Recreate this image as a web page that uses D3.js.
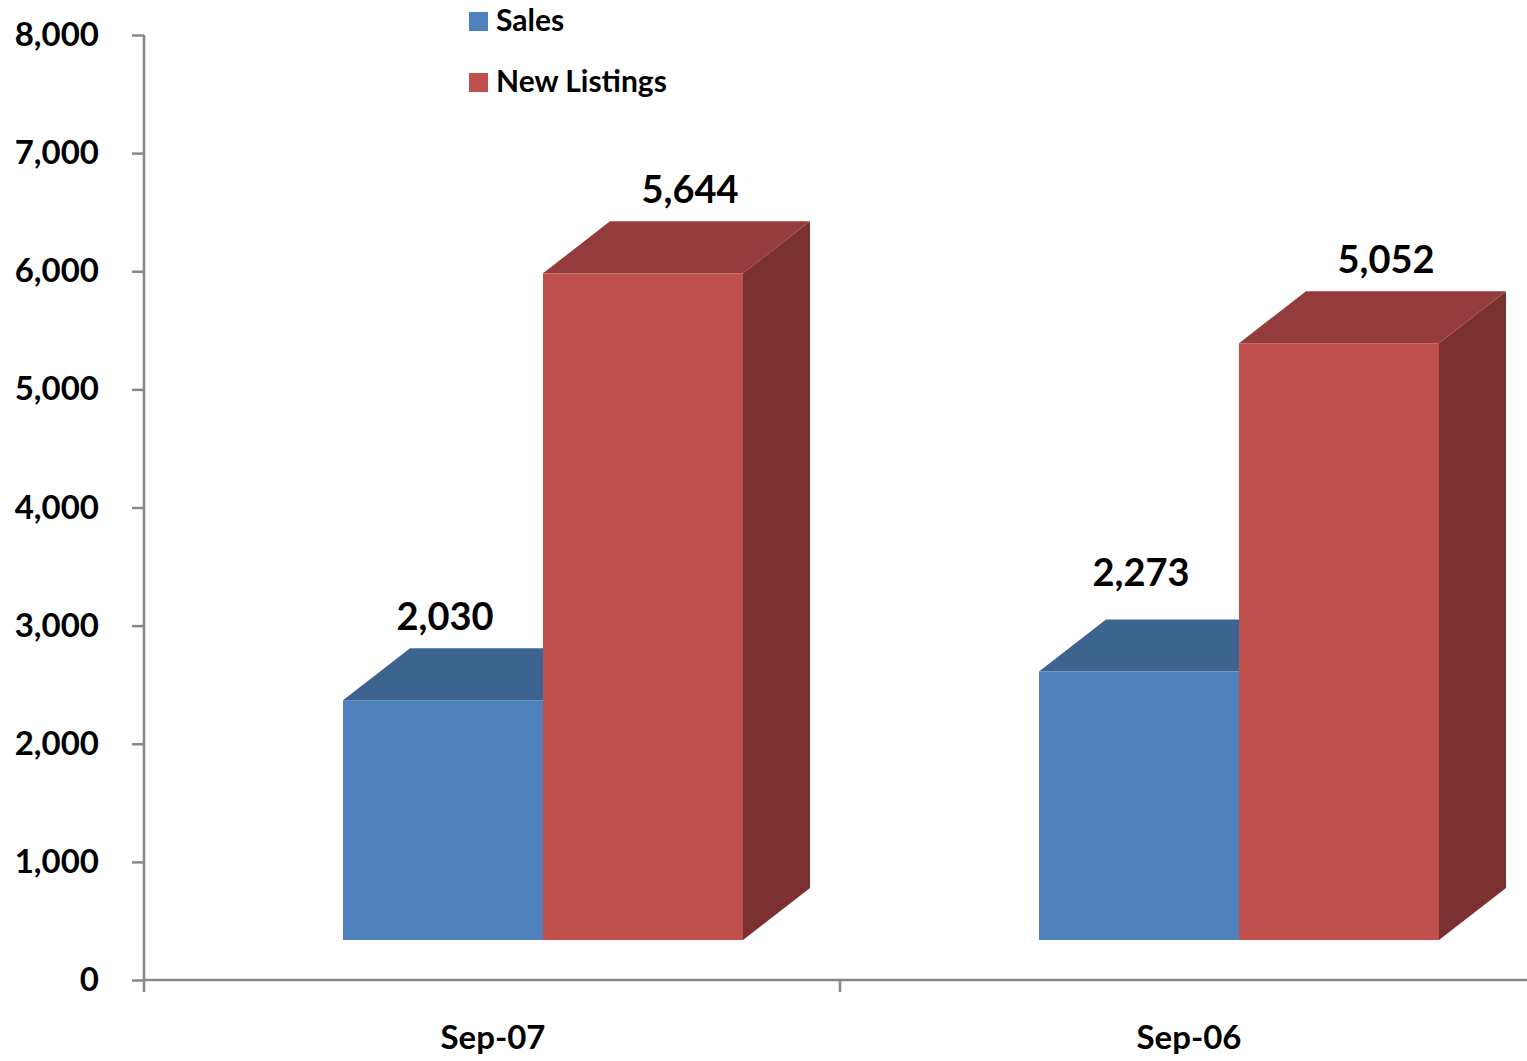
<!DOCTYPE html>
<html>
<head>
<meta charset="utf-8">
<script src="https://cdn.jsdelivr.net/npm/d3@7"></script>
<style>
  html, body { margin: 0; padding: 0; background: #fff; }
  svg { display: block; font-family: Lato, "Open Sans", sans-serif; font-weight: bold; }
</style>
</head>
<body>
<svg id="chart" width="1527" height="1061"></svg>
<script>
const categories = ["Sep-07", "Sep-06"];
const seriesNames = ["Sales", "New Listings"];
const salesValues = [2030, 2273];
const newListingsValues = [5644, 5052];
const yTickValues = [0, 1000, 2000, 3000, 4000, 5000, 6000, 7000, 8000];

const seriesValues = [salesValues, newListingsValues];

// style
const colors = {
  "Sales": { front: "#4F81BD", top: "#3D648F", side: "#30507A" },
  "New Listings": { front: "#C0504D", top: "#943C3B", side: "#7A3130" }
};
const labelDx = { "Sales": 2, "New Listings": 47 };
const depthX = 67, depthY = -52, floorLift = 40;
const axisColor = "#878787";

const svg = d3.select("#chart");
const y = d3.scaleLinear().domain([0, 8000]).range([980, 35]);
const x = d3.scaleBand().domain(categories).range([145, 1537]);
const xs = d3.scaleBand().domain(seriesNames).range([198, 598]);

// axes
const yAxis = svg.append("g").attr("transform", "translate(144,0)")
  .call(d3.axisLeft(y).tickValues(yTickValues).tickFormat(d3.format(",")).tickSize(12).tickPadding(33));
yAxis.select(".domain").remove();
yAxis.selectAll(".tick line").attr("stroke", axisColor).attr("stroke-width", 2.5);
yAxis.selectAll(".tick text").attr("fill", "#000").style("font-size", "33px").style("font-weight", "bold").style("font-family", "Lato, sans-serif");
svg.append("line").attr("x1", 144).attr("x2", 144).attr("y1", y(8000)).attr("y2", y(0) + 12)
  .attr("stroke", axisColor).attr("stroke-width", 2.5);

svg.append("line").attr("x1", 144).attr("x2", 1527).attr("y1", y(0)).attr("y2", y(0))
  .attr("stroke", axisColor).attr("stroke-width", 2.5);
svg.selectAll(".xtick").data(categories.slice(1)).enter().append("line")
  .attr("x1", d => x(d) - 1).attr("x2", d => x(d) - 1).attr("y1", y(0)).attr("y2", y(0) + 12)
  .attr("stroke", axisColor).attr("stroke-width", 2.5);
svg.selectAll(".xlabel").data(categories).enter().append("text")
  .attr("x", d => x(d) + x.bandwidth() / 2).attr("y", 1049)
  .attr("text-anchor", "middle").style("font-size", "33px").text(d => d);

// bars
const bars = [];
seriesNames.forEach((s, si) => {
  categories.forEach((c, ci) => bars.push({ s, c, v: seriesValues[si][ci] }));
});

const g = svg.append("g");
bars.forEach(b => {
  const x0 = x(b.c) + xs(b.s), x1 = x0 + xs.bandwidth();
  const yb = y(0) - floorLift, yt = y(b.v) - floorLift;
  const col = colors[b.s];
  const pts = a => a.map(p => p.join(",")).join(" ");
  g.append("polygon").attr("points", pts([[x1, yt], [x1 + depthX, yt + depthY], [x1 + depthX, yb + depthY], [x1, yb]]))
    .attr("fill", col.side);
  g.append("polygon").attr("points", pts([[x0, yt], [x0 + depthX, yt + depthY], [x1 + depthX, yt + depthY], [x1, yt]]))
    .attr("fill", col.top);
  g.append("rect").attr("x", x0).attr("y", yt).attr("width", x1 - x0).attr("height", yb - yt)
    .attr("fill", col.front);
});

// value labels
const labelNudge = { "Sales|Sep-06": -16 };
svg.selectAll(".vlabel").data(bars).enter().append("text")
  .attr("x", d => x(d.c) + xs(d.s) + xs.bandwidth() / 2 + labelDx[d.s])
  .attr("y", d => y(d.v) - 110 + (labelNudge[d.s + "|" + d.c] || 0))
  .attr("text-anchor", "middle").style("font-size", "38px")
  .text(d => d3.format(",")(d.v));

// legend
const legend = svg.append("g");
seriesNames.forEach((s, i) => {
  legend.append("rect").attr("x", 469).attr("y", 12 + i * 61).attr("width", 19).attr("height", 19)
    .attr("fill", colors[s].front);
  legend.append("text").attr("x", 496).attr("y", 31 + i * 61).style("font-size", "30px").text(s);
});
</script>
</body>
</html>
